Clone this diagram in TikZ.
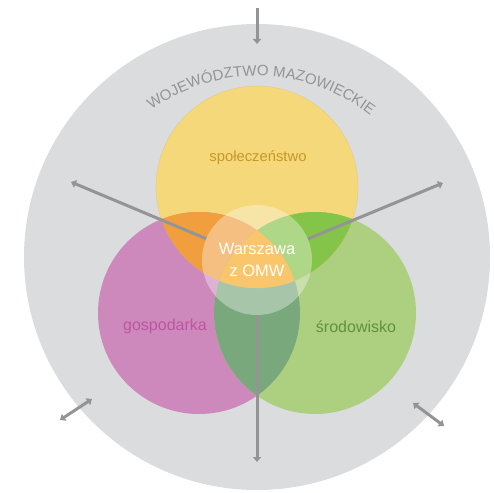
\documentclass[tikz,border=0pt]{standalone}
\usepackage{fontspec}
\setmainfont{Liberation Sans}
\usetikzlibrary{arrows.meta,decorations.text}
\definecolor{bggray}{RGB}{219,220,222}
\definecolor{yel}{RGB}{244,216,122}
\definecolor{mag}{RGB}{205,137,187}
\definecolor{grn}{RGB}{173,207,128}
\definecolor{ora}{RGB}{240,158,62}
\definecolor{lime}{RGB}{132,196,72}
\definecolor{dgrn}{RGB}{121,168,124}
\definecolor{tri}{RGB}{247,168,30}
\definecolor{arrgray}{RGB}{148,148,150}
\definecolor{socc}{RGB}{200,152,40}
\definecolor{ecoc}{RGB}{190,85,160}
\definecolor{envc}{RGB}{98,145,62}
\def\circSoc{(257,-187) circle (101)}
\def\circEco{(199,-313) circle (101)}
\def\circEnv{(315,-313) circle (101)}
\begin{document}
\begin{tikzpicture}[x=1pt,y=1pt,
        arr/.style={line width=3pt,draw=arrgray,-{Triangle[length=5pt,width=8pt]}},
        darr/.style={line width=3pt,draw=arrgray,{Triangle[length=5pt,width=8pt]}-{Triangle[length=5pt,width=8pt]}},
        lbl/.style={inner sep=0pt,font=\fontsize{16}{16}\selectfont}
    ]
    \useasboundingbox (0,0) rectangle (494,-492);
    \fill[bggray] (257,-257) circle (233);

    \fill[yel] \circSoc;
    \fill[mag] \circEco;
    \fill[grn] \circEnv;
    \begin{scope} \clip \circSoc; \fill[ora] \circEco; \end{scope}
    \begin{scope} \clip \circSoc; \fill[lime] \circEnv; \end{scope}
    \begin{scope} \clip \circEco; \fill[dgrn] \circEnv; \end{scope}
    \begin{scope} \clip \circSoc; \clip \circEco; \fill[tri] \circEnv; \end{scope}
    \draw[yel!85!black,line width=0.3pt,opacity=0.5] \circSoc;

    \node[lbl,text=socc,font=\fontsize{14.8}{15}\selectfont] (spol) at (258,-158) {społeczeństwo};
    \node[lbl,text=ecoc] (gosp) at (165,-326) {gospodarka};
    \node[lbl,text=envc] (srod) at (356,-327) {środowisko};

    \node[circle,minimum size=110pt,inner sep=0pt,fill=white,fill opacity=0.35,text opacity=1,
        text=white,align=center,font=\fontsize{16.5}{22}\selectfont] (waw) at (257,-260) {Warszawa\\z OMW};

    \coordinate (ntop) at (257,-8);
    \coordinate (ntopend) at (257,-44);
    \coordinate (nw) at (71,-182);
    \coordinate (ne) at (443,-183);
    \coordinate (s) at (257,-462);
    \coordinate (swa) at (60,-420);
    \coordinate (swb) at (92,-399);
    \coordinate (sea) at (413,-403);
    \coordinate (seb) at (444,-426);

    \draw[arr] (ntop) -- (ntopend);
    \foreach \t in {nw,ne,s} {
        \draw[arr] (waw) -- (\t);
    }
    \draw[darr] (swa) -- (swb);
    \draw[darr] (sea) -- (seb);

    \path[decorate,decoration={text along path,text align=center,
        text={|\fontsize{15}{15}\selectfont\color{arrgray}|WOJEWÓDZTWO MAZOWIECKIE}}]
        (257,-257) ++(127:181) arc (127:50:181);
\end{tikzpicture}
\end{document}
